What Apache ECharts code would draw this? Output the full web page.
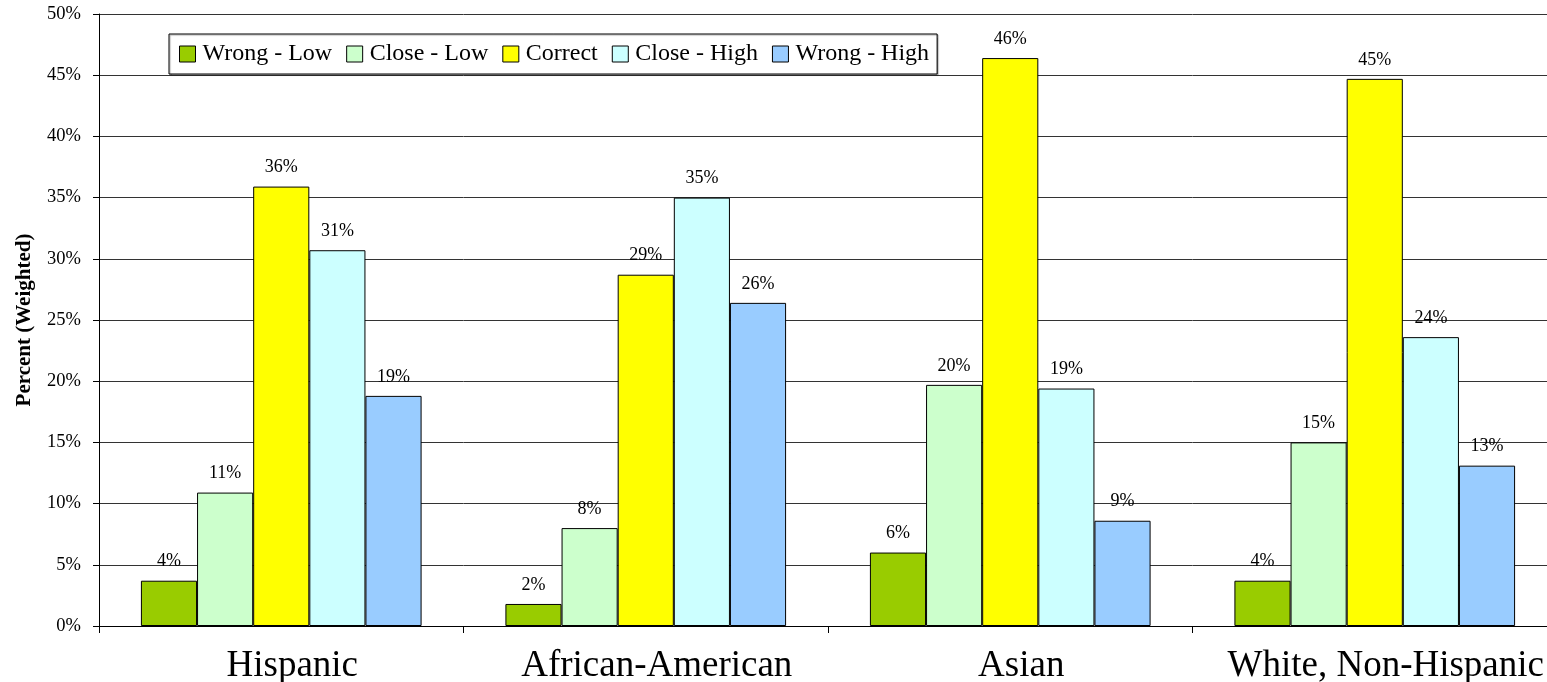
<!DOCTYPE html>
<html>
<head>
<meta charset="utf-8">
<script src="https://cdn.jsdelivr.net/npm/echarts@6/dist/echarts.min.js"></script>
<style>
  html, body { margin: 0; padding: 0; background: #fff; overflow: hidden; }
  #chart { width: 1560px; height: 682px; }
</style>
</head>
<body>
<div id="chart"></div>
<script>
// Groups along the x axis
const groups = ['Hispanic', 'African-American', 'Asian', 'White, Non-Hispanic'];

// Share of answers (weighted %) per accuracy band
const wrongLow  = [3.7, 1.8, 6.0, 3.7];
const closeLow  = [10.9, 8.0, 19.7, 15.0];
const correct   = [35.9, 28.7, 46.4, 44.7];
const closeHigh = [30.7, 35.0, 19.4, 23.6];
const wrongHigh = [18.8, 26.4, 8.6, 13.1];

const seriesNames  = ['Wrong - Low', 'Close - Low', 'Correct', 'Close - High', 'Wrong - High'];
const seriesData   = [wrongLow, closeLow, correct, closeHigh, wrongHigh];
const seriesColors = ['#99CC00', '#CCFFCC', '#FFFF00', '#CCFFFF', '#99CCFF'];

const serif = '"Liberation Serif", "DejaVu Serif", serif';

const chart = echarts.init(document.getElementById('chart'));

chart.setOption({
  animation: false,
  backgroundColor: '#fff',
  textStyle: { fontFamily: serif, color: '#000' },
  // plot runs a little past the right edge of the page; keep its box fixed
  grid: {
    left: 99, top: 14, width: 1458, height: 612,
    containLabel: false,
    outerBoundsMode: 'none'
  },
  legend: {
    left: 169, top: 34,
    padding: [8, 8, 8, 10],
    itemGap: 14,
    itemWidth: 16, itemHeight: 16,
    icon: 'rect',
    backgroundColor: '#fff',
    borderColor: '#000',
    borderWidth: 1,
    shadowColor: 'rgba(0,0,0,0.35)',
    shadowOffsetX: 1, shadowOffsetY: 1, shadowBlur: 1,
    itemStyle: { borderColor: '#000', borderWidth: 1 },
    textStyle: { fontFamily: serif, fontSize: 24, color: '#000', padding: [0, 0, 0, 2] },
    data: seriesNames
  },
  xAxis: {
    type: 'category',
    data: groups,
    boundaryGap: true,
    axisLine: { lineStyle: { color: '#000', width: 1 } },
    axisTick: { show: true, interval: 0, length: 7, lineStyle: { color: '#000' } },
    axisLabel: {
      fontFamily: serif, fontSize: 37, color: '#000', margin: 22, interval: 0,
      padding: [0, 0, 0, 22]
    }
  },
  yAxis: {
    type: 'value',
    min: 0, max: 50, interval: 5,
    name: 'Percent (Weighted)',
    nameLocation: 'middle',
    nameGap: 64,
    nameTextStyle: { fontFamily: serif, fontSize: 21, fontWeight: 'bold', color: '#000' },
    axisLine: { show: true, lineStyle: { color: '#000', width: 1 } },
    axisTick: { show: true, length: 6, lineStyle: { color: '#000' } },
    axisLabel: { fontFamily: serif, fontSize: 18.5, color: '#000', margin: 18, formatter: v => v + '%' },
    splitLine: { show: true, lineStyle: { color: '#333', width: 1 } }
  },
  series: seriesNames.map((name, i) => ({
    name,
    type: 'bar',
    data: seriesData[i],
    barGap: '0%',
    barCategoryGap: '23%',
    itemStyle: { color: seriesColors[i], borderColor: '#000', borderWidth: 1 },
    label: {
      show: true,
      position: 'top',
      distance: 10,
      fontFamily: serif,
      fontSize: 18,
      color: '#000',
      formatter: p => Math.round(p.value) + '%'
    }
  }))
});
</script>
</body>
</html>
